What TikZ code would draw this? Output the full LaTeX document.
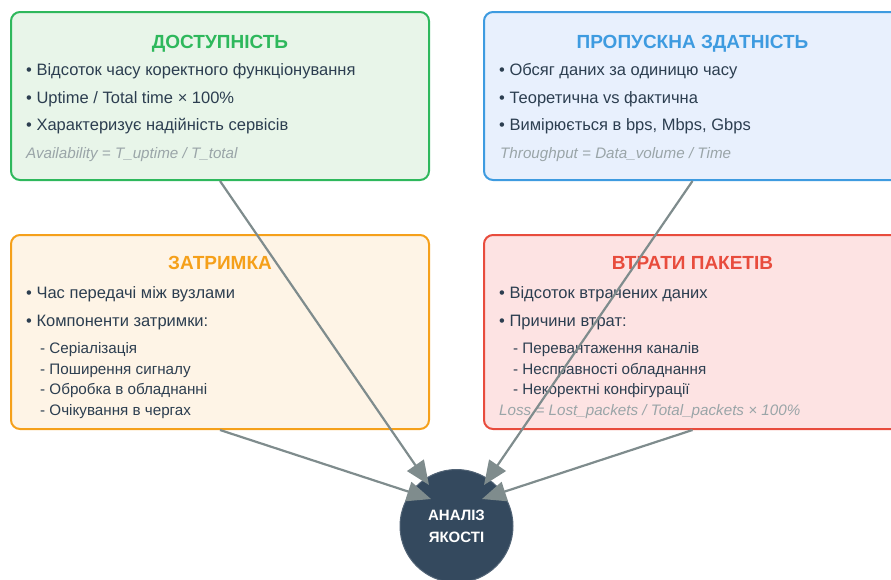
\documentclass[tikz,border=0pt]{standalone}
\usepackage{fontspec}
\setmainfont{Liberation Sans}
\usetikzlibrary{arrows.meta}
\definecolor{gbord}{HTML}{2EB85C}
\definecolor{gfill}{HTML}{E8F5E9}
\definecolor{bbord}{HTML}{3E9BE0}
\definecolor{bfill}{HTML}{E8F0FD}
\definecolor{obord}{HTML}{F5A01A}
\definecolor{ofill}{HTML}{FEF4E6}
\definecolor{rbord}{HTML}{E84C3D}
\definecolor{rfill}{HTML}{FDE3E3}
\definecolor{txt}{HTML}{2C3E50}
\definecolor{frm}{HTML}{9AA5A8}
\definecolor{navy}{HTML}{34495E}
\definecolor{arr}{HTML}{7F8C8D}
\tikzset{
  x=1pt,y=-1pt,
  panel/.style={draw=#1, line width=2pt, rounded corners=9pt, inner sep=0pt},
  ttl/.style={anchor=base, font=\bfseries\fontsize{19}{22}\selectfont, text=#1, inner sep=0pt},
  itm/.style={anchor=base west, font=\fontsize{16.5}{19}\selectfont, text=txt, inner sep=0pt},
  sub/.style={anchor=base west, font=\fontsize{15.2}{18}\selectfont, text=txt, inner sep=0pt},
  frml/.style={anchor=base west, font=\itshape\fontsize{15.2}{18}\selectfont, text=frm, inner sep=0pt},
  conn/.style={draw=arr, line width=2.2pt, -{Triangle[length=24pt,width=20pt]}, arr},
}
\begin{document}
\begin{tikzpicture}
\useasboundingbox (0,0) rectangle (891,579);
\clip (0,0) rectangle (891,579);
% panels
\node[panel=gbord, fill=gfill, minimum width=418pt, minimum height=168pt] (avail) at (220,96) {};
\node[panel=bbord, fill=bfill, minimum width=417pt, minimum height=168pt] (thru) at (692.5,96) {};
\node[panel=obord, fill=ofill, minimum width=418pt, minimum height=194pt] (lat) at (220,332) {};
\node[panel=rbord, fill=rfill, minimum width=417pt, minimum height=194pt] (loss) at (692.5,332) {};
% availability
\node[ttl=gbord] (t1) at (220,48.5) {ДОСТУПНІСТЬ};
\node[itm] (a1) at (26,75.5) {• Відсоток часу коректного функціонування};
\node[itm] (a2) at (26,103.5) {• Uptime / Total time × 100\%};
\node[itm] (a3) at (26,130.5) {• Характеризує надійність сервісів};
\node[frml] (a4) at (26,158.5) {Availability = T\_uptime / T\_total};
% throughput
\node[ttl=bbord] (t2) at (692.5,48.5) {ПРОПУСКНА ЗДАТНІСТЬ};
\node[itm] (b1) at (499,75.5) {• Обсяг даних за одиницю часу};
\node[itm] (b2) at (499,103.5) {• Теоретична vs фактична};
\node[itm] (b3) at (499,130.5) {• Вимірюється в bps, Mbps, Gbps};
\node[frml] (b4) at (500,158.5) {Throughput = Data\_volume / Time};
% latency
\node[ttl=obord] (t3) at (220,269.5) {ЗАТРИМКА};
\node[itm] (c1) at (26,298.5) {• Час передачі між вузлами};
\node[itm] (c2) at (26,326.5) {• Компоненти затримки:};
\node[sub] (c3) at (40,353.5) {- Серіалізація};
\node[sub] (c4) at (40,374.5) {- Поширення сигналу};
\node[sub] (c5) at (40,394.5) {- Обробка в обладнанні};
\node[sub] (c6) at (40,415.5) {- Очікування в чергах};
% packet loss
\node[ttl=rbord] (t4) at (692.5,269.5) {ВТРАТИ ПАКЕТІВ};
\node[itm] (d1) at (499,298.5) {• Відсоток втрачених даних};
\node[itm] (d2) at (499,326.5) {• Причини втрат:};
\node[sub] (d3) at (513,353.5) {- Перевантаження каналів};
\node[sub] (d4) at (513,374.5) {- Несправності обладнання};
\node[sub] (d5) at (513,394.5) {- Некоректні конфігурації};
\node[frml] (d6) at (499,415.5) {Loss = Lost\_packets / Total\_packets × 100\%};
% centre
\node[circle, fill=navy, draw=navy!85!white, line width=1pt, minimum size=113pt, inner sep=0pt,
      text=white, font=\bfseries\fontsize{15}{22}\selectfont, align=center] (q) at (456.5,526)
      {АНАЛІЗ\\ЯКОСТІ};
% arrow end points
\coordinate (e1) at (429,485);
\coordinate (e2) at (484,485);
\coordinate (e3) at (431,499);
\coordinate (e4) at (482,499);
\draw[conn] (avail.south) -- (e1);
\draw[conn] (thru.south) -- (e2);
\draw[conn] (lat.south) -- (e3);
\draw[conn] (loss.south) -- (e4);
\end{tikzpicture}
\end{document}
